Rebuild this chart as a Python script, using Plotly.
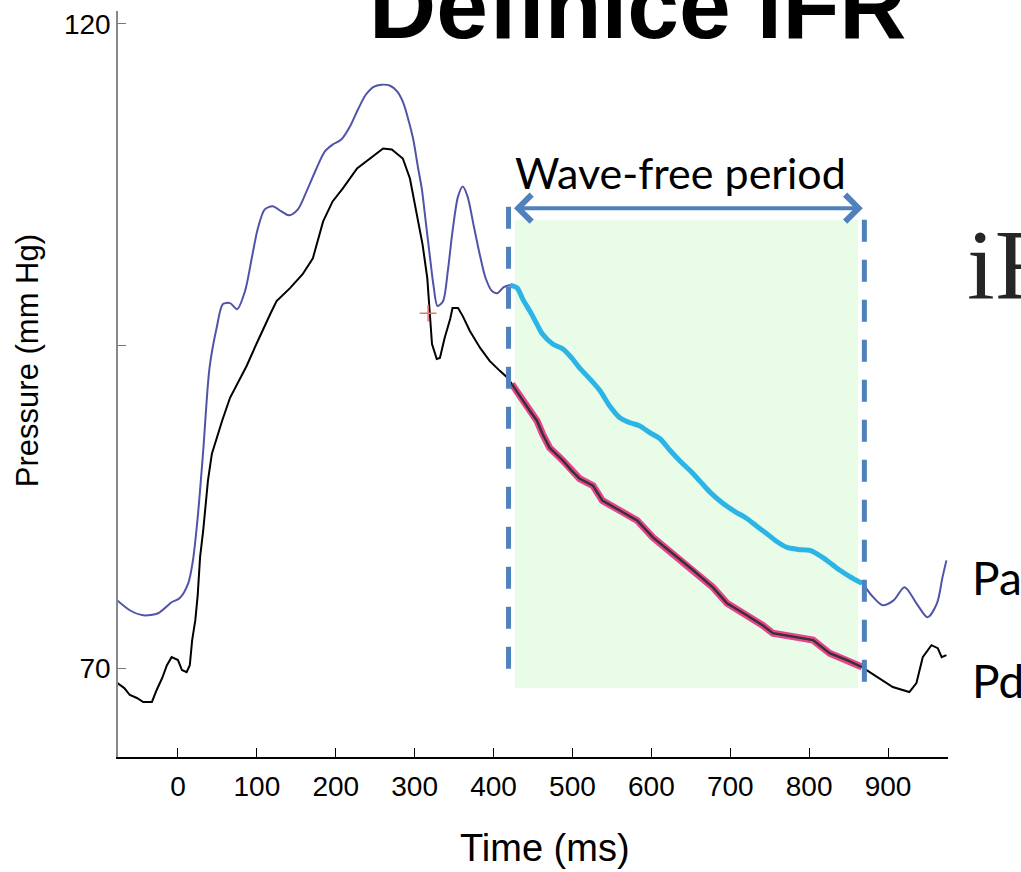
import plotly.graph_objects as go

# aortic pressure Pa (ms, mmHg)
time_pa = [-77, -61, -44, -25, -8, 2, 13, 19, 25, 32, 40, 49, 57, 66, 75, 85, 94, 101,
           110, 120, 131, 141, 152, 163, 175, 186, 196, 207, 218, 228, 238, 248, 258,
           269, 278, 285, 291, 298, 304, 309, 314, 319, 324, 329, 336, 342, 348, 355,
           361, 367, 375, 383, 390, 398, 405, 413, 421, 430, 437, 446, 455, 462, 475,
           488, 499, 509, 522, 535, 547, 560, 573, 585, 598, 611, 623, 636, 649, 661,
           675, 691, 706, 721, 734, 746, 759, 772, 786, 801, 817, 829, 839, 851, 867,
           879, 893, 907, 921, 936, 950, 962, 969, 974]
pa = [75.26, 74.49, 74.10, 74.26, 75.11, 75.42, 76.58, 78.36, 81.69, 86.87, 93.30, 96.39,
      98.25, 98.33, 97.86, 99.26, 101.97, 104.06, 105.60, 105.84, 105.45, 105.14, 105.60,
      107.00, 108.70, 110.09, 110.63, 111.02, 112.03, 113.34, 114.50, 115.12, 115.28,
      115.20, 114.74, 113.96, 112.80, 111.10, 108.93, 107.23, 104.67, 102.12, 99.64,
      98.10, 98.48, 100.80, 103.90, 106.61, 107.38, 106.61, 104.29, 101.97, 100.26,
      99.26, 99.10, 99.57, 99.72, 99.49, 98.64, 97.71, 96.70, 95.93, 95.15, 94.77, 94.07,
      93.30, 92.45, 91.52, 90.36, 89.43, 89.04, 88.81, 88.27, 87.80, 86.95, 86.10, 85.33,
      84.55, 83.62, 82.77, 82.15, 81.61, 80.99, 80.45, 79.83, 79.37, 79.21, 79.13, 78.59,
      78.05, 77.59, 77.12, 76.58, 75.65, 74.88, 75.26, 76.27, 75.03, 73.95, 75.03, 77.04,
      78.36]

# distal pressure Pd (ms, mmHg)
time_pd = [-77, -68, -61, -52, -44, -33, -27, -20, -14, -8, 0, 5, 11, 15, 18, 22, 25, 28,
           32, 34, 38, 43, 49, 56, 66, 76, 87, 100, 108, 117, 125, 142, 158, 171, 177, 184,
           196, 209, 227, 243, 260, 271, 285, 294, 303, 310, 316, 319, 322, 328, 332, 338,
           345, 348, 355, 361, 370, 383, 395, 408, 418, 423, 437, 446, 455, 462, 471, 488,
           499, 509, 526, 538, 560, 582, 602, 627, 653, 678, 696, 721, 741, 754, 784, 805,
           826, 848, 867, 889, 906, 927, 936, 944, 955, 963, 968, 974]
pd_vals = [68.84, 68.45, 67.91, 67.68, 67.37, 67.37, 68.30, 69.23, 70.23, 70.85, 70.62,
           69.85, 69.69, 70.23, 72.17, 73.72, 75.65, 78.59, 80.68, 82.00, 84.55, 86.64,
           87.88, 89.20, 90.98, 92.14, 93.45, 95.23, 96.32, 97.48, 98.48, 99.49, 100.57,
           101.81, 103.13, 104.67, 106.22, 107.23, 108.78, 109.55, 110.33, 110.25, 109.55,
           108.00, 105.22, 102.89, 100.26, 97.48, 95.15, 93.99, 94.07, 95.62, 97.09, 97.94,
           97.94, 97.32, 96.16, 94.85, 93.84, 93.07, 92.52, 92.06, 90.74, 89.97, 89.20,
           88.19, 87.11, 86.10, 85.33, 84.71, 84.16, 83.00, 82.23, 81.46, 80.14, 78.90,
           77.59, 76.27, 75.03, 74.10, 73.33, 72.71, 72.40, 72.17, 71.16, 70.62, 70.08,
           69.23, 68.53, 68.14, 68.84, 70.85, 71.78, 71.55, 70.85, 71.01]

wfp_start, wfp_end = 419, 870
marker_t, marker_p = 317, 97.55
xtick_vals = list(range(0, 1000, 100))
ytick_vals = [70, 95, 120]
ytick_text = ['70', '', '120']

narrow = 'Liberation Sans Narrow, Arial Narrow, Liberation Sans, Arial'
calibri = 'Lato, Carlito, Calibri, sans-serif'
dash_blue = '#4F81BD'

pa_win = [(t, p) for t, p in zip(time_pa, pa) if wfp_start - 2 <= t <= wfp_end - 2]
pd_win = [(t, p) for t, p in zip(time_pd, pd_vals) if wfp_start <= t <= wfp_end - 2]

fig = go.Figure()

fig.add_shape(type='rect', x0=wfp_start + 8, x1=wfp_end - 8, y0=68.45, y1=104.8,
              fillcolor='#E8FCE8', line_width=0, layer='below')

fig.add_trace(go.Scatter(x=time_pa, y=pa, mode='lines',
                         line=dict(color='#5054A8', width=2, shape='spline', smoothing=0.8)))
fig.add_trace(go.Scatter(x=time_pd, y=pd_vals, mode='lines',
                         line=dict(color='black', width=2)))
fig.add_trace(go.Scatter(x=[t for t, _ in pa_win], y=[p for _, p in pa_win], mode='lines',
                         line=dict(color='#2CB4E6', width=5, shape='spline', smoothing=0.8)))
fig.add_trace(go.Scatter(x=[t for t, _ in pd_win], y=[p for _, p in pd_win], mode='lines',
                         line=dict(color='#E8448E', width=7)))
fig.add_trace(go.Scatter(x=[t for t, _ in pd_win], y=[p for _, p in pd_win], mode='lines',
                         line=dict(color='#333333', width=2.5)))
fig.add_trace(go.Scatter(x=[marker_t], y=[marker_p], mode='markers',
                         marker=dict(symbol='cross-thin', size=12,
                                     line=dict(color='#F07070', width=1.5))))

# dashed window borders
fig.add_shape(type='line', x0=wfp_start, x1=wfp_start, y0=105.8, y1=69.3,
              line=dict(color=dash_blue, width=5, dash='22px,18px'))
fig.add_shape(type='line', x0=wfp_end, x1=wfp_end, y0=104.8, y1=68.45,
              line=dict(color=dash_blue, width=5, dash='22px,18px'))

# double arrow
fig.add_annotation(x=wfp_end - 2, y=105.7, ax=wfp_start + 5, ay=105.7,
                   xref='x', yref='y', axref='x', ayref='y', text='',
                   showarrow=True, arrowhead=4, startarrowhead=4, arrowside='end+start',
                   arrowsize=1.3, startarrowsize=1.3, arrowwidth=4, arrowcolor=dash_blue,
                   standoff=0, startstandoff=0)

fig.add_annotation(x=637, y=108.5, xref='x', yref='y', text='Wave-free period',
                   showarrow=False, font=dict(family=calibri, size=43, color='black'))
fig.add_annotation(x=0.6265, y=1.0066, xref='paper', yref='paper', text='<b>Definice iFR</b>',
                   xanchor='center', yanchor='middle', showarrow=False,
                   font=dict(family='Liberation Sans, Arial', size=93, color='black'))
fig.add_annotation(x=1.0205, y=0.6604, xref='paper', yref='paper', text='iF',
                   xanchor='left', yanchor='middle', showarrow=False,
                   font=dict(family='Liberation Serif, Times New Roman', size=100,
                             color='#262626'))
fig.add_annotation(x=1.0265, y=0.2406, xref='paper', yref='paper', text='Pa',
                   xanchor='left', yanchor='middle', showarrow=False,
                   font=dict(family=calibri, size=46, color='black'))
fig.add_annotation(x=1.0265, y=0.1029, xref='paper', yref='paper', text='Pd',
                   xanchor='left', yanchor='middle', showarrow=False,
                   font=dict(family=calibri, size=46, color='black'))
fig.add_annotation(x=-0.1096, y=0.5307, xref='paper', yref='paper', text='Pressure (mm Hg)',
                   xanchor='center', yanchor='middle', textangle=-90, showarrow=False,
                   font=dict(family='Liberation Sans, Arial', size=31, color='black'))
fig.add_annotation(x=0.5145, y=-0.1217, xref='paper', yref='paper', text='Time (ms)',
                   xanchor='center', yanchor='middle', showarrow=False,
                   font=dict(family=narrow, size=38, color='black'))

fig.update_xaxes(range=[-76, 976], tickvals=xtick_vals, ticks='inside', ticklen=9,
                 tickcolor='black', tickwidth=1, showline=True, linecolor='black',
                 linewidth=1.5, showgrid=False, zeroline=False, ticklabelstandoff=4,
                 tickfont=dict(family=narrow, size=28, color='black'))
fig.update_yaxes(range=[63.1, 121], tickvals=ytick_vals, ticktext=ytick_text,
                 ticks='inside', ticklen=8, tickcolor='#777777', tickwidth=1,
                 showline=True, linecolor='#888888', linewidth=1.5, showgrid=False,
                 zeroline=False, ticklabelstandoff=0,
                 tickfont=dict(family=narrow, size=28, color='black'))

fig.update_layout(width=1021, height=872, autosize=False, showlegend=False,
                  margin=dict(l=118, r=73, t=9, b=115),
                  plot_bgcolor='white', paper_bgcolor='white')

# drop the default page margin so the figure fills the window exactly
fig.write_html("out.html", config={'displayModeBar': False},
               post_script="document.body.style.margin='0';document.body.style.overflow='hidden';")
